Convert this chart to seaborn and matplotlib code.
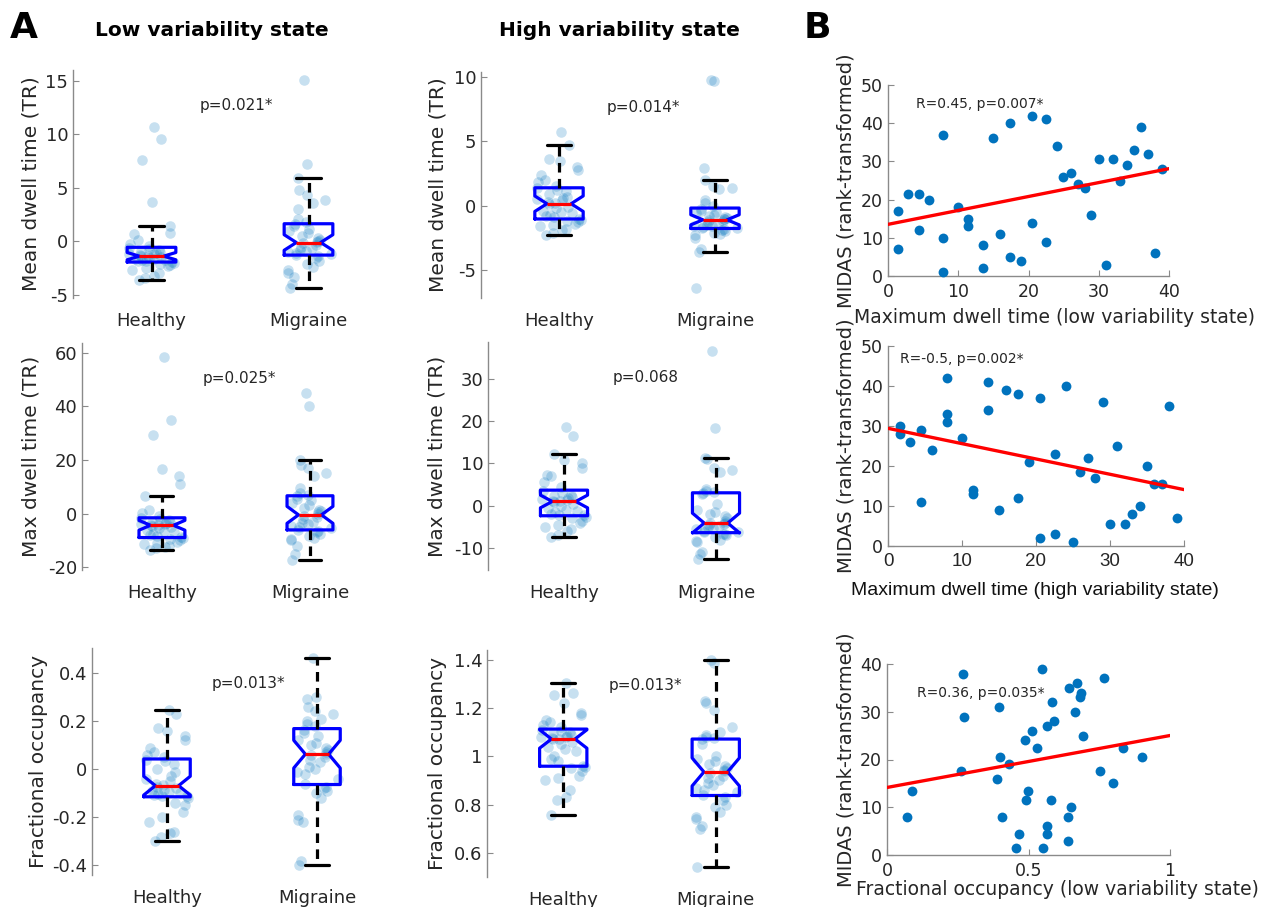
import numpy as np
import pandas as pd
import matplotlib
matplotlib.use("Agg")
import matplotlib.pyplot as plt
from matplotlib.ticker import FuncFormatter
import seaborn as sns

groups = ["Healthy", "Migraine"]

# --- Panel A: per-subject values ---
mean_dwell_low_hc = [10.7, 9.6, 7.6, 3.7, 1.4, 0.8, 0.7, 0.1, -0.2, -0.4,
                     -0.6, -0.7, -0.8, -0.9, -1.0, -1.1, -1.15, -1.2, -1.3, -1.35,
                     -1.4, -1.45, -1.5, -1.6, -1.65, -1.7, -1.75, -1.8, -1.85, -1.9,
                     -2.0, -2.1, -2.2, -2.3, -2.5, -2.7, -2.9, -3.2, -3.4, -3.6]
mean_dwell_low_mig = [15.1, 7.2, 5.9, 4.8, 4.3, 3.9, 3.6, 3.0, 2.1, 1.8,
                      1.6, 1.4, 1.2, 1.0, 0.8, 0.5, 0.3, 0.1, 0.0, -0.05,
                      -0.15, -0.3, -0.5, -0.6, -0.8, -0.9, -1.0, -1.1, -1.2, -1.25,
                      -1.35, -1.5, -1.8, -2.1, -2.4, -2.7, -2.9, -3.3, -4.0, -4.3]
mean_dwell_high_hc = [5.7, 4.7, 3.6, 3.5, 3.0, 2.8, 2.4, 2.0, 1.8, 1.5,
                      1.35, 1.2, 1.1, 0.9, 0.7, 0.6, 0.5, 0.4, 0.3, 0.2,
                      0.1, -0.1, -0.2, -0.4, -0.5, -0.6, -0.7, -0.8, -0.9, -1.0,
                      -1.15, -1.2, -1.3, -1.4, -1.5, -1.6, -1.8, -1.9, -2.1, -2.3]
mean_dwell_high_mig = [9.8, 9.7, 2.9, 2.0, 1.5, 1.4, 1.3, 0.4, 0.2, 0.0,
                       -0.25, -0.4, -0.5, -0.6, -0.7, -0.8, -0.9, -0.95, -1.0, -1.05,
                       -1.15, -1.2, -1.3, -1.4, -1.5, -1.55, -1.6, -1.65, -1.7, -1.75,
                       -1.85, -1.9, -2.0, -2.1, -2.2, -2.3, -2.5, -3.4, -3.6, -6.4]
max_dwell_low_hc = [58.5, 35.0, 29.5, 16.8, 14.0, 11.2, 6.5, 1.2, 0.3, -1.0,
                    -1.8, -2.2, -2.6, -3.0, -3.2, -3.5, -3.8, -4.0, -4.2, -4.3,
                    -4.5, -5.0, -5.5, -6.0, -6.5, -7.0, -7.5, -8.0, -8.5, -8.9,
                    -9.2, -9.5, -10.0, -10.5, -11.0, -11.5, -12.0, -12.5, -13.0, -13.5]
max_dwell_low_mig = [45.0, 40.0, 20.0, 18.0, 17.0, 15.0, 14.0, 9.5, 7.5, 7.0,
                     6.5, 5.5, 5.0, 4.0, 3.0, 2.0, 1.5, 1.0, 0.5, -0.2,
                     -0.8, -1.2, -2.0, -3.0, -3.5, -4.0, -4.5, -5.0, -5.5, -6.0,
                     -6.5, -7.0, -7.5, -8.5, -9.0, -9.5, -10.0, -12.0, -15.0, -17.3]
max_dwell_high_hc = [18.5, 16.5, 12.3, 10.7, 10.2, 9.0, 7.3, 7.0, 5.5, 4.5,
                     3.4, 3.0, 2.6, 2.3, 2.0, 1.8, 1.6, 1.4, 1.2, 1.1,
                     0.9, 0.5, 0.0, -0.5, -1.0, -1.3, -1.6, -1.9, -2.1, -2.3,
                     -2.6, -3.0, -3.5, -4.0, -4.5, -5.0, -5.5, -6.0, -7.0, -7.4]
max_dwell_high_mig = [36.5, 18.3, 11.3, 11.0, 9.0, 8.5, 8.0, 4.0, 3.5, 3.2,
                      3.0, 2.8, 0.5, -1.0, -1.5, -2.0, -2.5, -3.0, -3.5, -4.0,
                      -4.2, -4.4, -4.6, -4.8, -5.0, -5.3, -5.6, -5.9, -6.1, -6.3,
                      -6.6, -6.8, -7.0, -7.5, -8.0, -8.3, -8.6, -11.0, -11.5, -12.6]
frac_occ_low_hc = [0.245, 0.23, 0.17, 0.16, 0.14, 0.12, 0.09, 0.07, 0.06, 0.05,
                   0.04, 0.035, 0.02, 0.0, -0.01, -0.03, -0.04, -0.05, -0.06, -0.065,
                   -0.072, -0.08, -0.085, -0.09, -0.095, -0.1, -0.105, -0.108, -0.11, -0.113,
                   -0.12, -0.14, -0.15, -0.18, -0.2, -0.22, -0.26, -0.265, -0.28, -0.299]
frac_occ_low_mig = [0.464, 0.3, 0.29, 0.26, 0.24, 0.23, 0.21, 0.2, 0.19, 0.18,
                    0.165, 0.15, 0.14, 0.12, 0.11, 0.1, 0.09, 0.08, 0.07, 0.065,
                    0.06, 0.05, 0.04, 0.03, 0.01, 0.0, -0.01, -0.02, -0.04, -0.06,
                    -0.075, -0.08, -0.09, -0.1, -0.12, -0.19, -0.21, -0.22, -0.38, -0.4]
frac_occ_high_hc = [1.303, 1.26, 1.255, 1.22, 1.18, 1.17, 1.15, 1.14, 1.13, 1.12,
                    1.11, 1.105, 1.1, 1.095, 1.09, 1.085, 1.08, 1.078, 1.075, 1.073,
                    1.07, 1.06, 1.05, 1.04, 1.03, 1.02, 1.0, 0.99, 0.98, 0.96,
                    0.955, 0.95, 0.94, 0.92, 0.91, 0.9, 0.86, 0.83, 0.82, 0.756]
frac_occ_high_mig = [1.4, 1.385, 1.23, 1.22, 1.19, 1.12, 1.1, 1.09, 1.08, 1.075,
                     1.07, 1.05, 1.0, 0.99, 0.98, 0.97, 0.96, 0.95, 0.945, 0.94,
                     0.93, 0.92, 0.91, 0.9, 0.89, 0.88, 0.87, 0.86, 0.85, 0.84,
                     0.83, 0.82, 0.8, 0.79, 0.77, 0.75, 0.74, 0.71, 0.7, 0.542]

# --- Panel B: MIDAS ranks vs dwell metrics (migraine patients) ---
maxdwell_low_x = [1.4, 1.4, 2.9, 4.4, 4.4, 5.9, 7.9, 7.9, 7.9, 9.9,
                  11.4, 11.4, 13.5, 13.5, 14.9, 16.0, 17.4, 17.4, 19.0, 20.5,
                  20.5, 22.5, 22.5, 24.0, 24.9, 26.0, 27.0, 28.0, 28.9, 30.0,
                  31.0, 32.0, 33.0, 34.0, 35.0, 36.0, 37.0, 38.0, 39.0]
midas_rank_1 = [17, 7, 21.5, 21.5, 12, 20, 37, 10, 1, 18,
                15, 13, 8, 2, 36, 11, 40, 5, 4, 42,
                14, 41, 9, 34, 26, 27, 24, 23, 16, 30.5,
                3, 30.5, 25, 29, 33, 39, 32, 6, 28]
maxdwell_high_x = [1.6, 1.6, 3.0, 4.5, 4.5, 6.0, 8.0, 8.0, 8.0, 10.0,
                   11.5, 11.5, 13.5, 13.5, 15.0, 16.0, 17.5, 17.5, 19.1, 20.5,
                   20.5, 22.5, 22.5, 24.0, 25.0, 26.0, 27.0, 28.0, 29.0, 30.0,
                   31.0, 32.0, 33.0, 34.0, 35.0, 36.0, 37.0, 38.0, 39.0]
midas_rank_2 = [30, 28, 26, 29, 11, 24, 42, 33, 31, 27,
                14, 13, 41, 34, 9, 39, 38, 12, 21, 37,
                2, 23, 3, 40, 1, 18.5, 22, 17, 36, 5.5,
                25, 5.5, 8, 10, 20, 15.5, 15.5, 35, 7]
fracocc_low_x = [0.072, 0.088, 0.261, 0.268, 0.272, 0.388, 0.394, 0.401, 0.407, 0.432,
                 0.455, 0.468, 0.486, 0.492, 0.499, 0.511, 0.529, 0.548, 0.553, 0.565,
                 0.565, 0.566, 0.578, 0.584, 0.590, 0.638, 0.638, 0.644, 0.651, 0.664,
                 0.670, 0.682, 0.686, 0.693, 0.754, 0.768, 0.797, 0.834, 0.901]
midas_rank_3 = [8, 13.5, 17.5, 38, 29, 16, 31, 20.5, 8, 19,
                1.5, 4.5, 24, 11.5, 13.5, 26, 22.5, 39, 1.5, 27,
                6, 4.5, 11.5, 32, 28, 8, 3, 35, 10, 30,
                36, 33, 34, 25, 17.5, 37, 15, 22.5, 20.5]

BLUE = "#0072BD"
SPINE = "#8a8a8a"
TXT = "#262626"

sns.set_theme(style="white")
plt.rcParams["font.family"] = ["DejaVu Sans"]
plt.rcParams["axes.unicode_minus"] = False
plt.rcParams["text.color"] = TXT

W, H = 1262, 907
fig = plt.figure(figsize=(W / 100, H / 100), dpi=100)


def px_axes(left, top, right, bottom):
    return fig.add_axes([left / W, 1 - bottom / H, (right - left) / W, (bottom - top) / H])


def fmt_g(v, pos):
    return "%g" % round(v, 6)


def box_panel(ax, healthy, migraine, ylabel, ylim, yticks, ptext, label_x, xlo=-0.5):
    df = pd.DataFrame({"group": ["Healthy"] * len(healthy) + ["Migraine"] * len(migraine),
                       "value": healthy + migraine})
    np.random.seed(3)
    sns.stripplot(data=df, x="group", y="value", order=groups, jitter=0.15, size=7.6,
                  color=BLUE, alpha=0.22, linewidth=0, ax=ax, zorder=1)
    sns.boxplot(data=df, x="group", y="value", order=groups, width=0.31, notch=True,
                fill=False, showfliers=False, whis=1.5, ax=ax,
                boxprops=dict(color="blue", linewidth=2.3),
                medianprops=dict(color="red", linewidth=2.3),
                whiskerprops=dict(color="black", linewidth=2.3, linestyle=(0, (3.0, 2.0))),
                capprops=dict(color="black", linewidth=2.3))
    ax.set_xlim(xlo, 1.5)
    ax.set_ylim(*ylim)
    ax.set_yticks(yticks)
    ax.yaxis.set_major_formatter(FuncFormatter(fmt_g))
    ax.set_xlabel("")
    ax.set_ylabel(ylabel, fontsize=14.5, color=TXT)
    ax.yaxis.set_label_coords(label_x, 0.5)
    ax.tick_params(axis="x", length=0, pad=10, labelsize=13, labelcolor=TXT)
    ax.tick_params(axis="y", direction="in", length=4, width=0.8, color=SPINE,
                   labelsize=13, labelcolor=TXT, left=True)
    for s in ["top", "right", "bottom"]:
        ax.spines[s].set_visible(False)
    ax.spines["left"].set_color(SPINE)
    ax.spines["left"].set_linewidth(1.0)
    ax.text(0.52, 0.845, ptext, transform=ax.transAxes, ha="center", va="center",
            fontsize=11, color=TXT)


def scatter_panel(ax, x, y, xlim, xticks, ylim, yticks, xlabel, xlabel_xy, rtext, rtext_xy,
                  label_x, xfont=None):
    ax.set_xlim(*xlim)
    ax.set_ylim(*ylim)
    sns.scatterplot(x=x, y=y, ax=ax, color=BLUE, s=50, linewidth=0, clip_on=False, zorder=3)
    sns.regplot(x=np.array(x), y=np.array(y), ax=ax, scatter=False, ci=None, truncate=False,
                color="red", line_kws=dict(linewidth=2.4, zorder=4))
    ax.set_xlim(*xlim)
    ax.set_ylim(*ylim)
    ax.set_xticks(xticks)
    ax.set_yticks(yticks)
    ax.xaxis.set_major_formatter(FuncFormatter(fmt_g))
    ax.yaxis.set_major_formatter(FuncFormatter(fmt_g))
    ax.tick_params(axis="both", direction="in", length=4, width=0.8, color=SPINE,
                   labelsize=12.5, labelcolor=TXT, left=True, bottom=True)
    ax.tick_params(axis="x", pad=5)
    for s in ["top", "right"]:
        ax.spines[s].set_visible(False)
    for s in ["left", "bottom"]:
        ax.spines[s].set_color(SPINE)
        ax.spines[s].set_linewidth(1.0)
    ax.set_ylabel("MIDAS (rank-transformed)", fontsize=14, color=TXT)
    ax.yaxis.set_label_coords(label_x, 0.5)
    if xfont is None:
        ax.set_xlabel(xlabel, fontsize=13.5, color=TXT, va="top")
    else:
        ax.set_xlabel(xlabel, fontsize=14, color="#111111", va="top", family=xfont)
        for t in ax.get_xticklabels():
            t.set_family(xfont)
            t.set_fontsize(13.5)
    ax.xaxis.set_label_coords(*xlabel_xy)
    ax.text(rtext_xy[0], rtext_xy[1], rtext, transform=ax.transAxes, ha="left", va="center",
            fontsize=10, color=TXT)


# Panel A, low variability state
box_panel(px_axes(73, 70, 387, 298), mean_dwell_low_hc, mean_dwell_low_mig,
          "Mean dwell time (TR)", (-5.28, 16.0), [-5, 0, 5, 10, 15], "p=0.021*", -0.105)
box_panel(px_axes(82, 343, 384, 570), max_dwell_low_hc, max_dwell_low_mig,
          "Max dwell time (TR)", (-21.1, 63.7), [-20, 0, 20, 40, 60], "p=0.025*", -0.139,
          xlo=-0.54)
box_panel(px_axes(92, 648, 392, 875), frac_occ_low_hc, frac_occ_low_mig,
          "Fractional occupancy", (-0.44, 0.504), [-0.4, -0.2, 0, 0.2, 0.4], "p=0.013*", -0.147)

# Panel A, high variability state
box_panel(px_axes(481, 72, 793, 298), mean_dwell_high_hc, mean_dwell_high_mig,
          "Mean dwell time (TR)", (-7.18, 10.39), [-5, 0, 5, 10], "p=0.014*", -0.108)
box_panel(px_axes(488, 342, 792, 570), max_dwell_high_hc, max_dwell_high_mig,
          "Max dwell time (TR)", (-15.2, 38.7), [-10, 0, 10, 20, 30], "p=0.068", -0.135)
box_panel(px_axes(487, 650, 792, 877), frac_occ_high_hc, frac_occ_high_mig,
          "Fractional occupancy", (0.50, 1.44), [0.6, 0.8, 1.0, 1.2, 1.4], "p=0.013*", -0.131)

# Panel B
scatter_panel(px_axes(888, 85, 1169, 276), maxdwell_low_x, midas_rank_1, (0, 40),
              [0, 10, 20, 30, 40], (0, 50), [0, 10, 20, 30, 40, 50],
              "Maximum dwell time (low variability state)", (0.594, -0.165),
              "R=0.45, p=0.007*", (0.10, 0.90), -0.117)
scatter_panel(px_axes(888, 346, 1184, 546), maxdwell_high_x, midas_rank_2, (0, 40),
              [0, 10, 20, 30, 40], (0, 50), [0, 10, 20, 30, 40, 50],
              "Maximum dwell time (high variability state)", (0.497, -0.18),
              "R=-0.5, p=0.002*", (0.04, 0.935), -0.111, xfont="Liberation Sans")
scatter_panel(px_axes(887, 664, 1170, 855), fracocc_low_x, midas_rank_3, (0, 1),
              [0, 0.5, 1], (0, 40), [0, 10, 20, 30, 40],
              "Fractional occupancy (low variability state)", (0.604, -0.13),
              "R=0.36, p=0.035*", (0.106, 0.85), -0.113)

# Headers
fig.text(212 / W, 1 - 30 / H, "Low variability state", ha="center", va="center",
         fontsize=14.5, weight="bold", color="black")
fig.text(619 / W, 1 - 30 / H, "High variability state", ha="center", va="center",
         fontsize=14.5, weight="bold", color="black")
fig.text(24 / W, 1 - 28 / H, "A", ha="center", va="center", fontsize=26, weight="bold",
         color="black")
fig.text(817 / W, 1 - 28 / H, "B", ha="center", va="center", fontsize=26, weight="bold",
         color="black")

fig.savefig("out.png", dpi=100)
plt.close(fig)
